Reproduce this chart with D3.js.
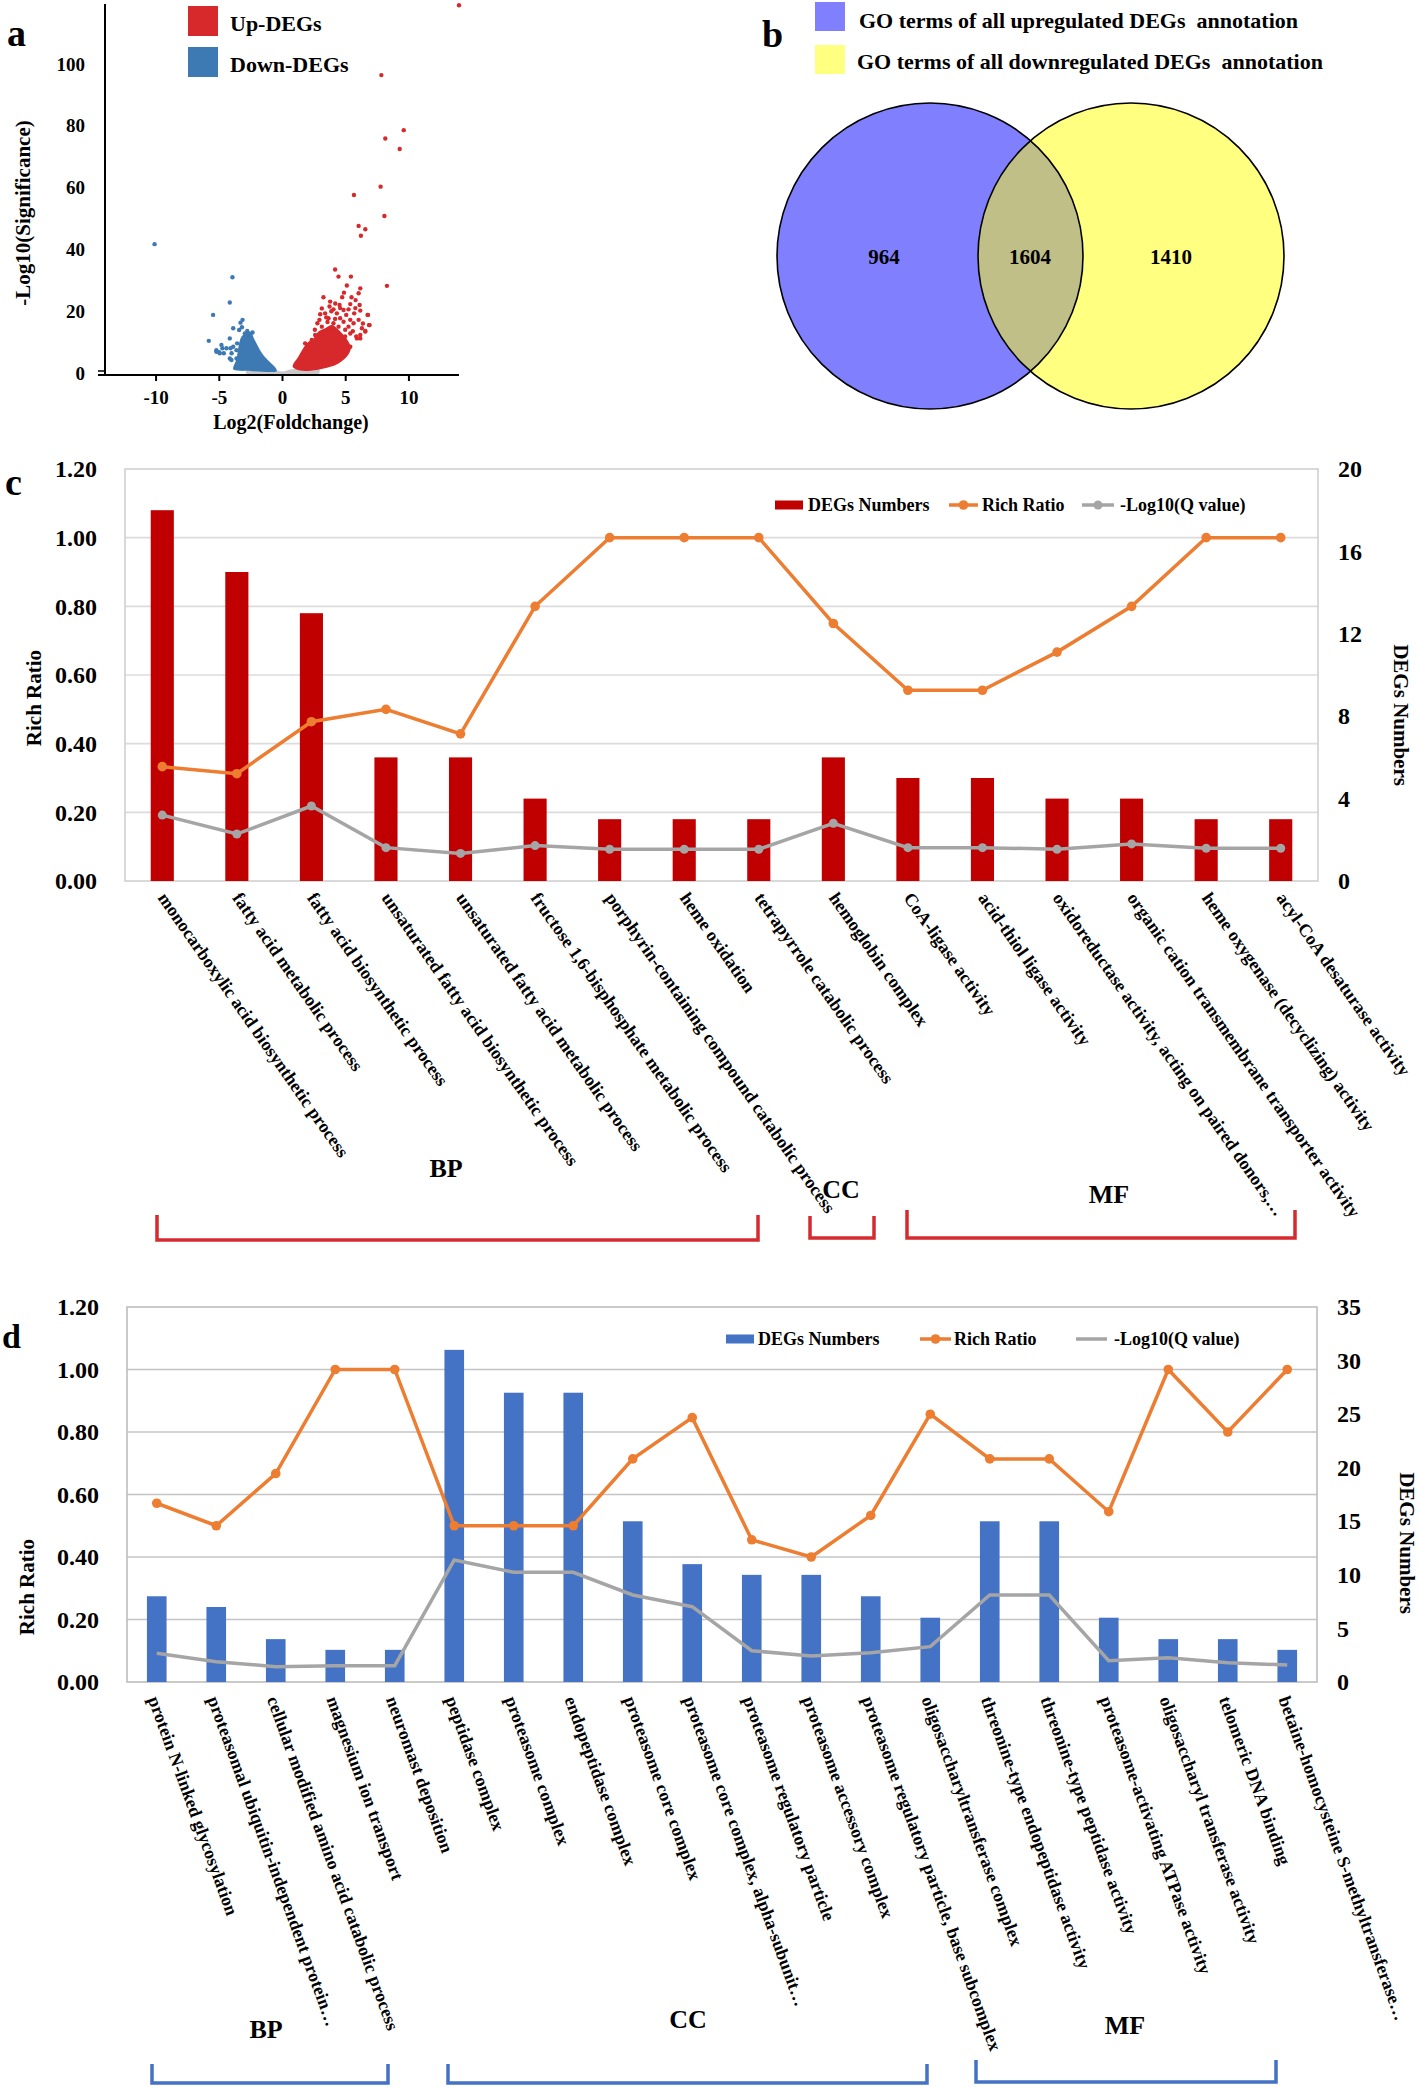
<!DOCTYPE html>
<html><head><meta charset="utf-8">
<script src="https://cdn.jsdelivr.net/npm/d3@7"></script>
<style>
body{margin:0;background:#fff}
svg text{font-family:"Liberation Serif","Times New Roman",serif;font-weight:bold;fill:#000;white-space:pre}
</style>
</head><body>
<svg id="fig" width="1418" height="2087" xmlns="http://www.w3.org/2000/svg"></svg>
<script>
// ---------------- DATA ----------------
// Panel a: volcano plot (log2 fold change, -log10 significance)
const volcanoUp = [[14.0,119],[7.86,96.4],[9.63,78.6],[8.17,75.9],[9.31,72.5],[7.8,60.3],[5.69,57.6],[8.1,50.8],
 [6.06,47.6],[6.59,46.5],[6.24,44.4],[8.3,28.2],[4.2,33.5],[4.47,31.2],[5.45,31.2],[5.13,28.3],[6.19,27.4],[6.06,25.8],
 [4.76,24.5],[3.28,24.5],[3.81,23.1],[4.21,22.5],[4.55,22],[5.4,22.3],[5.82,23.6],[6.14,22],[3.76,21.5],[3.15,20.9],
 [4.07,20.6],[4.87,20.4],[5.26,20.6],[3.41,19.3],[3.02,19],[4.34,19.3],[5.08,18.8],[5.71,19.3],[6.19,20.2],[6.77,18.8],
 [2.96,17.2],[3.68,17.7],[4.6,17.7],[5.4,17.2],[6.06,17.2],[2.8,16.1],[4.07,16.1],[4.87,16.6],[5.66,16.1],[6.93,15.5],
 [3.15,15],[4.47,15],[5.26,15],[6.32,14.5],[6.59,13.4],[5.4,12.8],[6.19,12.3],[5.93,11.2],[4.99,11.8],[4.34,13.4],
 [3.81,13.9],[3.41,12.8],[2.62,12.3],[2.35,10.7],[1.83,9.6],[6.8,18.8],[6.88,15.5],[6.59,13.6],[6.19,11.2],[5.87,11.8],
 [5.4,8.5],[3.6,16.5],[4.2,17.5],[5.0,14],[5.6,13.5],[3.9,20],[4.6,21],[5.5,24.5],[4.9,26],[3.5,18],[2.6,14],[6.4,16],[5.8,21]];
const volcanoDown = [[-10.08,41.7],[-3.92,31],[-4.13,22.8],[-5.45,18.8],[-5.79,10.4],[-3.12,17.2],[-3.28,16.3],
 [-3.86,14.5],[-3.39,13.9],[-4.13,11.2],[-4.79,9.1],[-5.19,7.4],[-4.97,6.7],[-4.6,6.4],[-4.13,4.7],[-3.6,7.4],[-3.55,9.6],
 [-2.94,12.8],[-2.67,12.8],[-2.33,13.1],[-3.86,8.5],[-4.39,8],[-3.99,6.4],[-4.71,8],[-4.0,4.2],[-3.6,4.7],[-3.17,14.8],
 [-2.75,13.6],[-4.92,6.4],[-5.19,6.9],[-4.07,8]];
// dense point clouds (outline of the overplotted region)
const upCloud = [[0.85,2],[1.3,5.3],[1.75,8.5],[2.09,10.1],[2.49,11.2],[2.88,13.4],[3.41,14.5],[3.94,15.5],[4.34,14.5],
 [4.87,12.3],[5.26,10.1],[5.45,8],[5.13,5.3],[4.47,3.1],[3.81,2],[2.75,1.0],[1.43,0.8]];
const downCloud = [[-3.86,1.2],[-3.6,4.5],[-3.5,7],[-3.39,9.6],[-3.2,11.8],[-2.86,12.8],[-2.49,13.4],[-2.22,11.2],
 [-1.88,8.5],[-1.48,5.8],[-1.0,3.7],[-0.48,1.5],[-0.42,0.6],[-2.28,0.6],[-3.6,0.8]];
const nsCloud = [[-2.8,1.0],[-0.5,1.0],[0,0.5],[0.8,1.2],[2.9,1.8],[2.9,-0.3],[-2.8,-0.3]];
const volcanoXTicks = [-10,-5,0,5,10];
const volcanoYTicks = [0,20,40,60,80,100];
const volcanoLegend = ["Up-DEGs","Down-DEGs"];

// Panel b: Venn
const vennCounts = [964,1604,1410];
const vennLegend = ["GO terms of all upregulated DEGs  annotation","GO terms of all downregulated DEGs  annotation"];

// Panel c
const cCategories = ["monocarboxylic acid biosynthetic process","fatty acid metabolic process","fatty acid biosynthetic process",
 "unsaturated fatty acid biosynthetic process","unsaturated fatty acid metabolic process","fructose 1,6-bisphosphate metabolic process",
 "porphyrin-containing compound catabolic process","heme oxidation","tetrapyrrole catabolic process","hemoglobin complex",
 "CoA-ligase activity","acid-thiol ligase activity","oxidoreductase activity, acting on paired donors,…",
 "organic cation transmembrane transporter activity","heme oxygenase (decyclizing) activity","acyl-CoA desaturase activity"];
const cDEGs = [18,15,13,6,6,4,3,3,3,6,5,5,4,4,3,3];
const cRichRatio = [0.333,0.3125,0.464,0.5,0.4286,0.8,1.0,1.0,1.0,0.75,0.5556,0.5556,0.6667,0.8,1.0,1.0];
const cLogQ = [3.2,2.28,3.64,1.62,1.34,1.72,1.54,1.54,1.54,2.8,1.62,1.62,1.54,1.8,1.59,1.59];
const cGroups = ["BP","CC","MF"];
const cRightTicks = [0,4,8,12,16,20];

// Panel d
const dCategories = ["protein N-linked glycosylation","proteasomal ubiquitin-independent protein…",
 "cellular modified amino acid catabolic process","magnesium ion transport","neuromast deposition","peptidase complex",
 "proteasome complex","endopeptidase complex","proteasome core complex","proteasome core complex, alpha-subunit…",
 "proteasome regulatory particle","proteasome accessory complex","proteasome regulatory particle, base subcomplex",
 "oligosaccharyltransferase complex","threonine-type endopeptidase activity","threonine-type peptidase activity",
 "proteasome-activating ATPase activity","oligosaccharyl transferase activity","telomeric DNA binding",
 "betaine-homocysteine S-methyltransferase…"];
const dDEGs = [8,7,4,3,3,31,27,27,15,11,10,10,8,6,15,15,6,4,4,3];
const dRichRatio = [0.572,0.5,0.667,1.0,1.0,0.5,0.5,0.5,0.714,0.846,0.455,0.4,0.533,0.857,0.714,0.714,0.545,1.0,0.8,1.0];
const dLogQ = [2.68,1.9,1.43,1.52,1.52,11.39,10.24,10.24,8.12,7.03,2.92,2.43,2.74,3.3,8.12,8.12,1.99,2.27,1.8,1.59];
const dGroups = ["BP","CC","MF"];
const dRightTicks = [0,5,10,15,20,25,30,35];

const leftTicks = [0,0.2,0.4,0.6,0.8,1.0,1.2];
const comboLegend = ["DEGs Numbers","Rich Ratio","-Log10(Q value)"];
const panelLetters = ["a","b","c","d"];

// ---------------- DRAWING ----------------
const FONT = '"Liberation Serif","Times New Roman",serif';
const svg = d3.select('#fig');
function styleAxis(g, size){
  g.attr('font-family', FONT).attr('font-weight','bold').attr('font-size', size);
  g.select('.domain').remove();
  g.selectAll('text').attr('fill','#000');
}

// ===== Panel a =====
(function(){
  const x = d3.scaleLinear().domain([-14,14]).range([105,459]);
  const y = d3.scaleLinear().domain([0,120]).range([373,2.2]);
  const g = svg.append('g');
  g.append('defs').append('clipPath').attr('id','vclip').append('rect').attr('x',105).attr('y',0).attr('width',360).attr('height',375);
  const pg = g.append('g').attr('clip-path','url(#vclip)');
  const area = d3.line().x(d=>x(d[0])).y(d=>y(d[1])).curve(d3.curveCatmullRomClosed);
  pg.append('path').attr('d', area(nsCloud)).attr('fill','#c9c9c9');
  pg.append('path').attr('d', area(downCloud)).attr('fill','#3d7ab3');
  pg.append('path').attr('d', area(upCloud)).attr('fill','#d7282c');
  pg.selectAll('circle.dn').data(volcanoDown).join('circle').attr('cx',d=>x(d[0])).attr('cy',d=>y(d[1])).attr('r',2.2).attr('fill','#3d7ab3');
  pg.selectAll('circle.up').data(volcanoUp).join('circle').attr('cx',d=>x(d[0])).attr('cy',d=>y(d[1])).attr('r',2.2).attr('fill','#d7282c');
  // axes
  g.append('line').attr('x1',105).attr('x2',105).attr('y1',4).attr('y2',376).attr('stroke','#000').attr('stroke-width',2);
  g.append('line').attr('x1',98).attr('x2',459).attr('y1',375).attr('y2',375).attr('stroke','#000').attr('stroke-width',2);
  g.append('line').attr('x1',98).attr('x2',105).attr('y1',371).attr('y2',371).attr('stroke','#000').attr('stroke-width',1.5);
  const ax = g.append('g').attr('transform','translate(0,375)')
    .call(d3.axisBottom(x).tickValues(volcanoXTicks).tickFormat(d=>String(d)).tickSize(6).tickPadding(10));
  styleAxis(ax, 19); ax.selectAll('line').attr('stroke','#000').attr('stroke-width',2);
  const ay = g.append('g').attr('transform','translate(105,0)')
    .call(d3.axisLeft(y).tickValues(volcanoYTicks).tickFormat(d=>String(d)).tickSize(0).tickPadding(20));
  styleAxis(ay, 19);
  g.append('text').attr('x',291).attr('y',429).attr('text-anchor','middle').style('font-size','20px').text('Log2(Foldchange)');
  g.append('text').attr('transform','translate(30,213) rotate(-90)').attr('text-anchor','middle').style('font-size','21px').text('-Log10(Significance)');
  // legend
  const lc = ['#d7282c','#3d7ab3'];
  volcanoLegend.forEach((t,i)=>{
    g.append('rect').attr('x',188).attr('y',6+i*41).attr('width',30).attr('height',30).attr('fill',lc[i]);
    g.append('text').attr('x',230).attr('y',31+i*41).style('font-size','22px').text(t);
  });
  g.append('text').attr('x',7).attr('y',46).style('font-size','38px').text(panelLetters[0]);
})();

// ===== Panel b =====
(function(){
  const g = svg.append('g');
  const C = [{cx:930,cy:256,r:153},{cx:1131,cy:256,r:153}];
  g.append('defs').append('clipPath').attr('id','lclip').append('circle').attr('cx',C[0].cx).attr('cy',C[0].cy).attr('r',C[0].r);
  g.append('circle').attr('cx',C[0].cx).attr('cy',C[0].cy).attr('r',C[0].r).attr('fill','#8080ff');
  g.append('circle').attr('cx',C[1].cx).attr('cy',C[1].cy).attr('r',C[1].r).attr('fill','#ffff80');
  g.append('circle').attr('cx',C[1].cx).attr('cy',C[1].cy).attr('r',C[1].r).attr('fill','#bfbf87').attr('clip-path','url(#lclip)');
  C.forEach(c=>g.append('circle').attr('cx',c.cx).attr('cy',c.cy).attr('r',c.r).attr('fill','none').attr('stroke','#000').attr('stroke-width',1.6));
  const tx = [884,1030,1171];
  vennCounts.forEach((v,i)=>g.append('text').attr('x',tx[i]).attr('y',264).attr('text-anchor','middle').style('font-size','21px').text(v));
  const sc = ['#8080ff','#ffff80'];
  vennLegend.forEach((t,i)=>{
    g.append('rect').attr('x',815).attr('y',2+i*43).attr('width',30).attr('height',29).attr('fill',sc[i]);
    g.append('text').attr('x',859-i*2).attr('y',28+i*41).style('font-size','22px').text(t);
  });
  g.append('text').attr('x',762).attr('y',47).style('font-size','38px').text(panelLetters[1]);
})();

// ===== Combo charts =====
function combo(o){
  const g = svg.append('g');
  const x = d3.scaleBand().domain(o.cats).range([o.left,o.right]).paddingInner(o.pad).paddingOuter(o.pad/2);
  const yL = d3.scaleLinear().domain([0,1.2]).range([o.bottom,o.top]);
  const yR = d3.scaleLinear().domain([0,o.rMax]).range([o.bottom,o.top]);
  const cx = d => x(d)+x.bandwidth()/2;
  g.selectAll('line.grid').data(leftTicks.filter(v=>v>0&&v<1.2)).join('line')
    .attr('x1',o.left).attr('x2',o.right).attr('y1',d=>yL(d)).attr('y2',d=>yL(d))
    .attr('stroke',o.grid).attr('stroke-width',1.6);
  g.append('rect').attr('x',o.left).attr('y',o.top).attr('width',o.right-o.left).attr('height',o.bottom-o.top)
    .attr('fill','none').attr('stroke',o.border).attr('stroke-width',1.6);
  g.selectAll('rect.bar').data(o.cats).join('rect')
    .attr('x',d=>x(d)).attr('width',x.bandwidth())
    .attr('y',(d,i)=>yR(o.bars[i])).attr('height',(d,i)=>o.bottom-yR(o.bars[i])).attr('fill',o.barColor);
  const lineL = d3.line().x((d,i)=>cx(o.cats[i])).y(d=>yL(d));
  const lineR = d3.line().x((d,i)=>cx(o.cats[i])).y(d=>yR(d));
  g.append('path').attr('d',lineR(o.logq)).attr('fill','none').attr('stroke','#a5a5a5').attr('stroke-width',3.5);
  if(o.grayMarkers){
    g.selectAll('circle.q').data(o.logq).join('circle').attr('cx',(d,i)=>cx(o.cats[i])).attr('cy',d=>yR(d)).attr('r',4.5).attr('fill','#a5a5a5');
  }
  g.append('path').attr('d',lineL(o.rich)).attr('fill','none').attr('stroke','#ed7d31').attr('stroke-width',3.5);
  g.selectAll('circle.r').data(o.rich).join('circle').attr('cx',(d,i)=>cx(o.cats[i])).attr('cy',d=>yL(d)).attr('r',4.8).attr('fill','#ed7d31');
  // axes
  const al = g.append('g').attr('transform',`translate(${o.left},0)`)
    .call(d3.axisLeft(yL).tickValues(leftTicks).tickFormat(d3.format('.2f')).tickSize(0).tickPadding(o.left-o.lLab));
  styleAxis(al, 24);
  const ar = g.append('g').attr('transform',`translate(${o.right},0)`)
    .call(d3.axisRight(yR).tickValues(o.rTicks).tickSize(0).tickPadding(o.rLab-o.right));
  styleAxis(ar, 24);
  // titles
  g.append('text').attr('transform',`translate(${o.lTitle[0]},${o.lTitle[1]}) rotate(-90)`).attr('text-anchor','middle').style('font-size','21px').text('Rich Ratio');
  g.append('text').attr('transform',`translate(${o.rTitle[0]},${o.rTitle[1]}) rotate(90)`).attr('text-anchor','middle').style('font-size','21px').text('DEGs Numbers');
  // category labels
  g.selectAll('text.cat').data(o.cats).join('text')
    .attr('transform',d=>`translate(${cx(d)+o.labDx},${o.bottom+o.labDy}) rotate(${o.angle})`)
    .style('font-size','18px').text(d=>d);
  // legend
  const L = o.legend;
  g.append('rect').attr('x',L.rect[0]).attr('y',L.y-4.5).attr('width',L.rect[1]-L.rect[0]).attr('height',9).attr('fill',o.barColor);
  g.append('text').attr('x',L.t[0]).attr('y',L.y+6).style('font-size','18px').text(comboLegend[0]);
  g.append('line').attr('x1',L.o[0]).attr('x2',L.o[1]).attr('y1',L.y).attr('y2',L.y).attr('stroke','#ed7d31').attr('stroke-width',3.5);
  g.append('circle').attr('cx',(L.o[0]+L.o[1])/2).attr('cy',L.y).attr('r',4.8).attr('fill','#ed7d31');
  g.append('text').attr('x',L.t[1]).attr('y',L.y+6).style('font-size','18px').text(comboLegend[1]);
  g.append('line').attr('x1',L.q[0]).attr('x2',L.q[1]).attr('y1',L.y).attr('y2',L.y).attr('stroke','#a5a5a5').attr('stroke-width',3.5);
  if(o.grayMarkers) g.append('circle').attr('cx',(L.q[0]+L.q[1])/2).attr('cy',L.y).attr('r',4.5).attr('fill','#a5a5a5');
  g.append('text').attr('x',L.t[2]).attr('y',L.y+6).style('font-size','18px').text(comboLegend[2]);
  // group brackets
  o.groups.forEach((name,i)=>{
    const b = o.brackets[i];
    g.append('path').attr('d',`M${b[0]},${b[2]}V${b[3]}H${b[1]}V${b[2]}`).attr('fill','none')
      .attr('stroke',o.bracketColor).attr('stroke-width',3.5);
    g.append('text').attr('x',o.groupLab[i][0]).attr('y',o.groupLab[i][1]).attr('text-anchor','middle').style('font-size','26px').text(name);
  });
  g.append('text').attr('x',o.letter[0]).attr('y',o.letter[1]).style('font-size',o.letter[2]).text(o.letterText);
}

combo({cats:cCategories,bars:cDEGs,rich:cRichRatio,logq:cLogQ,rMax:20,rTicks:cRightTicks,
  left:125,right:1318,top:469,bottom:881,pad:0.69,grid:'#dcdcdc',border:'#d0d0d0',barColor:'#c00000',
  grayMarkers:true,lLab:97,rLab:1338,lTitle:[41,698],rTitle:[1394,715],labDx:-5,labDy:17,angle:55,
  legend:{y:505,rect:[775,803],t:[808,982,1120],o:[949,978],q:[1082,1114]},
  groups:cGroups,brackets:[[157,758,1215,1240],[810,874,1216,1238],[907,1295,1210,1238]],
  groupLab:[[446,1177],[841,1198],[1109,1203]],bracketColor:'#d52a2e',
  letter:[5,495,'38px'],letterText:panelLetters[2]});

combo({cats:dCategories,bars:dDEGs,rich:dRichRatio,logq:dLogQ,rMax:35,rTicks:dRightTicks,
  left:127,right:1317,top:1307,bottom:1682,pad:0.67,grid:'#c4c4c4',border:'#bdbdbd',barColor:'#4472c4',
  grayMarkers:false,lLab:99,rLab:1337,lTitle:[34,1587],rTitle:[1400,1543],labDx:-9,labDy:17,angle:70,
  legend:{y:1339,rect:[726,754],t:[758,954,1114],o:[920,951],q:[1076,1107]},
  groups:dGroups,brackets:[[152,388,2064,2083],[448,927,2064,2083],[976,1276,2060,2082]],
  groupLab:[[266,2038],[688,2028],[1125,2034]],bracketColor:'#4472c4',
  letter:[2,1348,'34px'],letterText:panelLetters[3]});
</script>
</body></html>
